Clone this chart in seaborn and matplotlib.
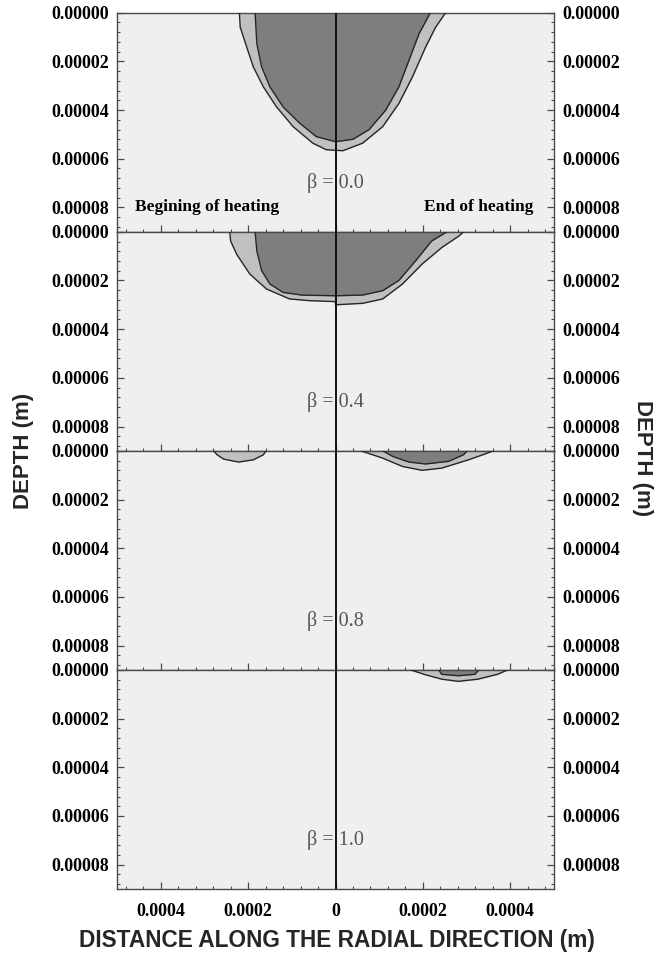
import numpy as np
import pandas as pd
import seaborn as sns
import matplotlib
matplotlib.use("Agg")
import matplotlib.pyplot as plt
from matplotlib.ticker import MultipleLocator, FuncFormatter

# ---------------- data (metres) ----------------
panel_labels = ["β = 0.0", "β = 0.4", "β = 0.8", "β = 1.0"]

# beta = 0.0
b00_outer_x = [-2.20e-4, -2.18e-4, -2.03e-4, -1.88e-4, -1.65e-4, -1.35e-4, -0.97e-4, -0.52e-4, -0.21e-4,
               0.17e-4, 0.62e-4, 1.08e-4, 1.45e-4, 1.76e-4, 2.06e-4, 2.29e-4, 2.52e-4]
b00_outer_d = [0.0, 0.60e-5, 1.42e-5, 2.23e-5, 3.05e-5, 3.87e-5, 4.68e-5, 5.36e-5, 5.63e-5,
               5.67e-5, 5.36e-5, 4.68e-5, 3.73e-5, 2.64e-5, 1.42e-5, 0.60e-5, 0.0]
b00_inner_x = [-1.84e-4, -1.80e-4, -1.69e-4, -1.50e-4, -1.20e-4, -0.82e-4, -0.44e-4, 0.0,
               0.40e-4, 0.77e-4, 1.15e-4, 1.45e-4, 1.68e-4, 1.91e-4, 2.17e-4]
b00_inner_d = [0.0, 1.28e-5, 2.23e-5, 3.05e-5, 3.87e-5, 4.54e-5, 5.09e-5, 5.30e-5,
               5.20e-5, 4.80e-5, 4.00e-5, 3.05e-5, 1.96e-5, 0.87e-5, 0.0]

# beta = 0.4
b04_outer_x = [-2.42e-4, -2.40e-4, -2.26e-4, -1.96e-4, -1.58e-4, -1.05e-4, -0.60e-4, 0.0, 0.0,
               0.62e-4, 1.08e-4, 1.53e-4, 1.98e-4, 2.43e-4, 2.82e-4, 2.93e-4]
b04_outer_d = [0.0, 0.38e-5, 0.93e-5, 1.74e-5, 2.35e-5, 2.76e-5, 2.83e-5, 2.87e-5, 3.00e-5,
               2.94e-5, 2.76e-5, 2.15e-5, 1.33e-5, 0.65e-5, 0.18e-5, 0.0]
b04_inner_x = [-1.84e-4, -1.80e-4, -1.69e-4, -1.50e-4, -1.20e-4, -0.78e-4, 0.0,
               0.62e-4, 1.08e-4, 1.45e-4, 1.83e-4, 2.20e-4, 2.55e-4]
b04_inner_d = [0.0, 0.79e-5, 1.60e-5, 2.15e-5, 2.49e-5, 2.60e-5, 2.63e-5,
               2.60e-5, 2.42e-5, 2.00e-5, 1.20e-5, 0.38e-5, 0.0]

# beta = 0.8
b08_left_x = [-2.79e-4, -2.71e-4, -2.56e-4, -2.22e-4, -1.88e-4, -1.65e-4, -1.59e-4]
b08_left_d = [0.0, 0.16e-5, 0.34e-5, 0.46e-5, 0.37e-5, 0.16e-5, 0.0]
b08_outer_x = [0.58e-4, 1.08e-4, 1.53e-4, 1.98e-4, 2.43e-4, 3.04e-4, 3.42e-4, 3.61e-4]
b08_outer_d = [0.0, 0.30e-5, 0.64e-5, 0.80e-5, 0.71e-5, 0.37e-5, 0.13e-5, 0.0]
b08_inner_x = [1.08e-4, 1.31e-4, 1.68e-4, 2.06e-4, 2.59e-4, 2.93e-4, 3.01e-4]
b08_inner_d = [0.0, 0.23e-5, 0.46e-5, 0.54e-5, 0.43e-5, 0.16e-5, 0.0]

# beta = 1.0
b10_outer_x = [1.72e-4, 2.06e-4, 2.43e-4, 2.81e-4, 3.26e-4, 3.71e-4, 3.94e-4]
b10_outer_d = [0.0, 0.20e-5, 0.38e-5, 0.47e-5, 0.38e-5, 0.18e-5, 0.0]
b10_inner_x = [2.36e-4, 2.43e-4, 2.81e-4, 3.19e-4, 3.28e-4]
b10_inner_d = [0.0, 0.18e-5, 0.24e-5, 0.18e-5, 0.0]

x_ticks = [-4e-4, -2e-4, 0.0, 2e-4, 4e-4]
y_ticks = [0.0, 2e-5, 4e-5, 6e-5, 8e-5]

panels = [
    {"light": [(b00_outer_x, b00_outer_d)], "dark": [(b00_inner_x, b00_inner_d)]},
    {"light": [(b04_outer_x, b04_outer_d)], "dark": [(b04_inner_x, b04_inner_d)]},
    {"light": [(b08_left_x, b08_left_d), (b08_outer_x, b08_outer_d)], "dark": [(b08_inner_x, b08_inner_d)]},
    {"light": [(b10_outer_x, b10_outer_d)], "dark": [(b10_inner_x, b10_inner_d)]},
]

# ---------------- style ----------------
sns.set_theme(style="ticks")
plt.rcParams["font.family"] = ["Liberation Serif", "DejaVu Serif"]
plt.rcParams["font.weight"] = "bold"

BG = "#efefef"
LIGHT = "#c0c0c0"
DARK = "#7e7e7e"
EDGE = "#262626"
SPINE = "#4a4a4a"

fig, axes = plt.subplots(4, 1, figsize=(6.68, 9.56), dpi=100, sharex=True,
                         gridspec_kw=dict(hspace=0))
fig.subplots_adjust(left=117 / 668, right=554 / 668, top=1 - 12.7 / 956, bottom=1 - 889 / 956)

yfmt = FuncFormatter(lambda v, p: f"{abs(v):.5f}")
xfmt = FuncFormatter(lambda v, p: "0" if abs(v) < 1e-12 else f"{abs(v):.4f}")

for ax, pan, lab in zip(axes, panels, panel_labels):
    ax.set_facecolor(BG)
    for xs, ds in pan["light"]:
        ax.fill_between(xs, 0, ds, color=LIGHT, lw=0, zorder=1)
    for xs, ds in pan["dark"]:
        ax.fill_between(xs, 0, ds, color=DARK, lw=0, zorder=2)
    for xs, ds in pan["light"] + pan["dark"]:
        sns.lineplot(x=np.array(xs), y=np.array(ds), sort=False, estimator=None,
                     color=EDGE, lw=1.0, ax=ax, zorder=3)
    ax.axvline(0, color="#111111", lw=1.4, zorder=5)
    ax.text(0, 7.0e-5, lab, ha="center", va="center", fontsize=14.5, fontweight="normal",
            color="#555555", zorder=4)

    ax.set_xlim(-5e-4, 5e-4)
    ax.set_ylim(9e-5, 0)
    ax.set_xticks(x_ticks)
    ax.set_yticks(y_ticks)
    ax.xaxis.set_minor_locator(MultipleLocator(4e-5))
    ax.yaxis.set_minor_locator(MultipleLocator(4e-6))
    ax.xaxis.set_major_formatter(xfmt)
    ax.yaxis.set_major_formatter(yfmt)
    ax.tick_params(which="both", direction="in", left=True, right=True, bottom=True, top=False,
                   labelleft=True, labelright=True, color=SPINE, labelsize=13, labelcolor="black")
    ax.tick_params(which="major", length=5, width=0.9)
    ax.tick_params(which="minor", length=2.5, width=0.8)
    ax.tick_params(axis="y", which="major", pad=6)
    ax.tick_params(axis="x", which="major", pad=10)
    ax.set_xlabel("")
    ax.set_ylabel("")
    for s in ax.spines.values():
        s.set_color(SPINE)
        s.set_linewidth(1.0)

axes[0].text(-4.58e-4, 8.0e-5, "Begining of heating", ha="left", va="center",
             fontsize=12.5, fontweight="bold", color="black", zorder=4)
axes[0].text(4.52e-4, 8.0e-5, "End of heating", ha="right", va="center",
             fontsize=12.5, fontweight="bold", color="black", zorder=4)

sans = ["Liberation Sans", "DejaVu Sans"]
fig.text(23 / 668, 1 - 451 / 956, "DEPTH (m)", rotation=90, ha="center", va="center",
         fontsize=16, fontweight="bold", family=sans)
fig.text(643 / 668, 1 - 458 / 956, "DEPTH (m)", rotation=270, ha="center", va="center",
         fontsize=16, fontweight="bold", family=sans)
fig.text(336.5 / 668, 1 - 941 / 956, "DISTANCE ALONG THE RADIAL DIRECTION (m)", ha="center",
         va="center", fontsize=16.3, fontweight="bold", family=sans)

fig.savefig("out.png", dpi=100)
